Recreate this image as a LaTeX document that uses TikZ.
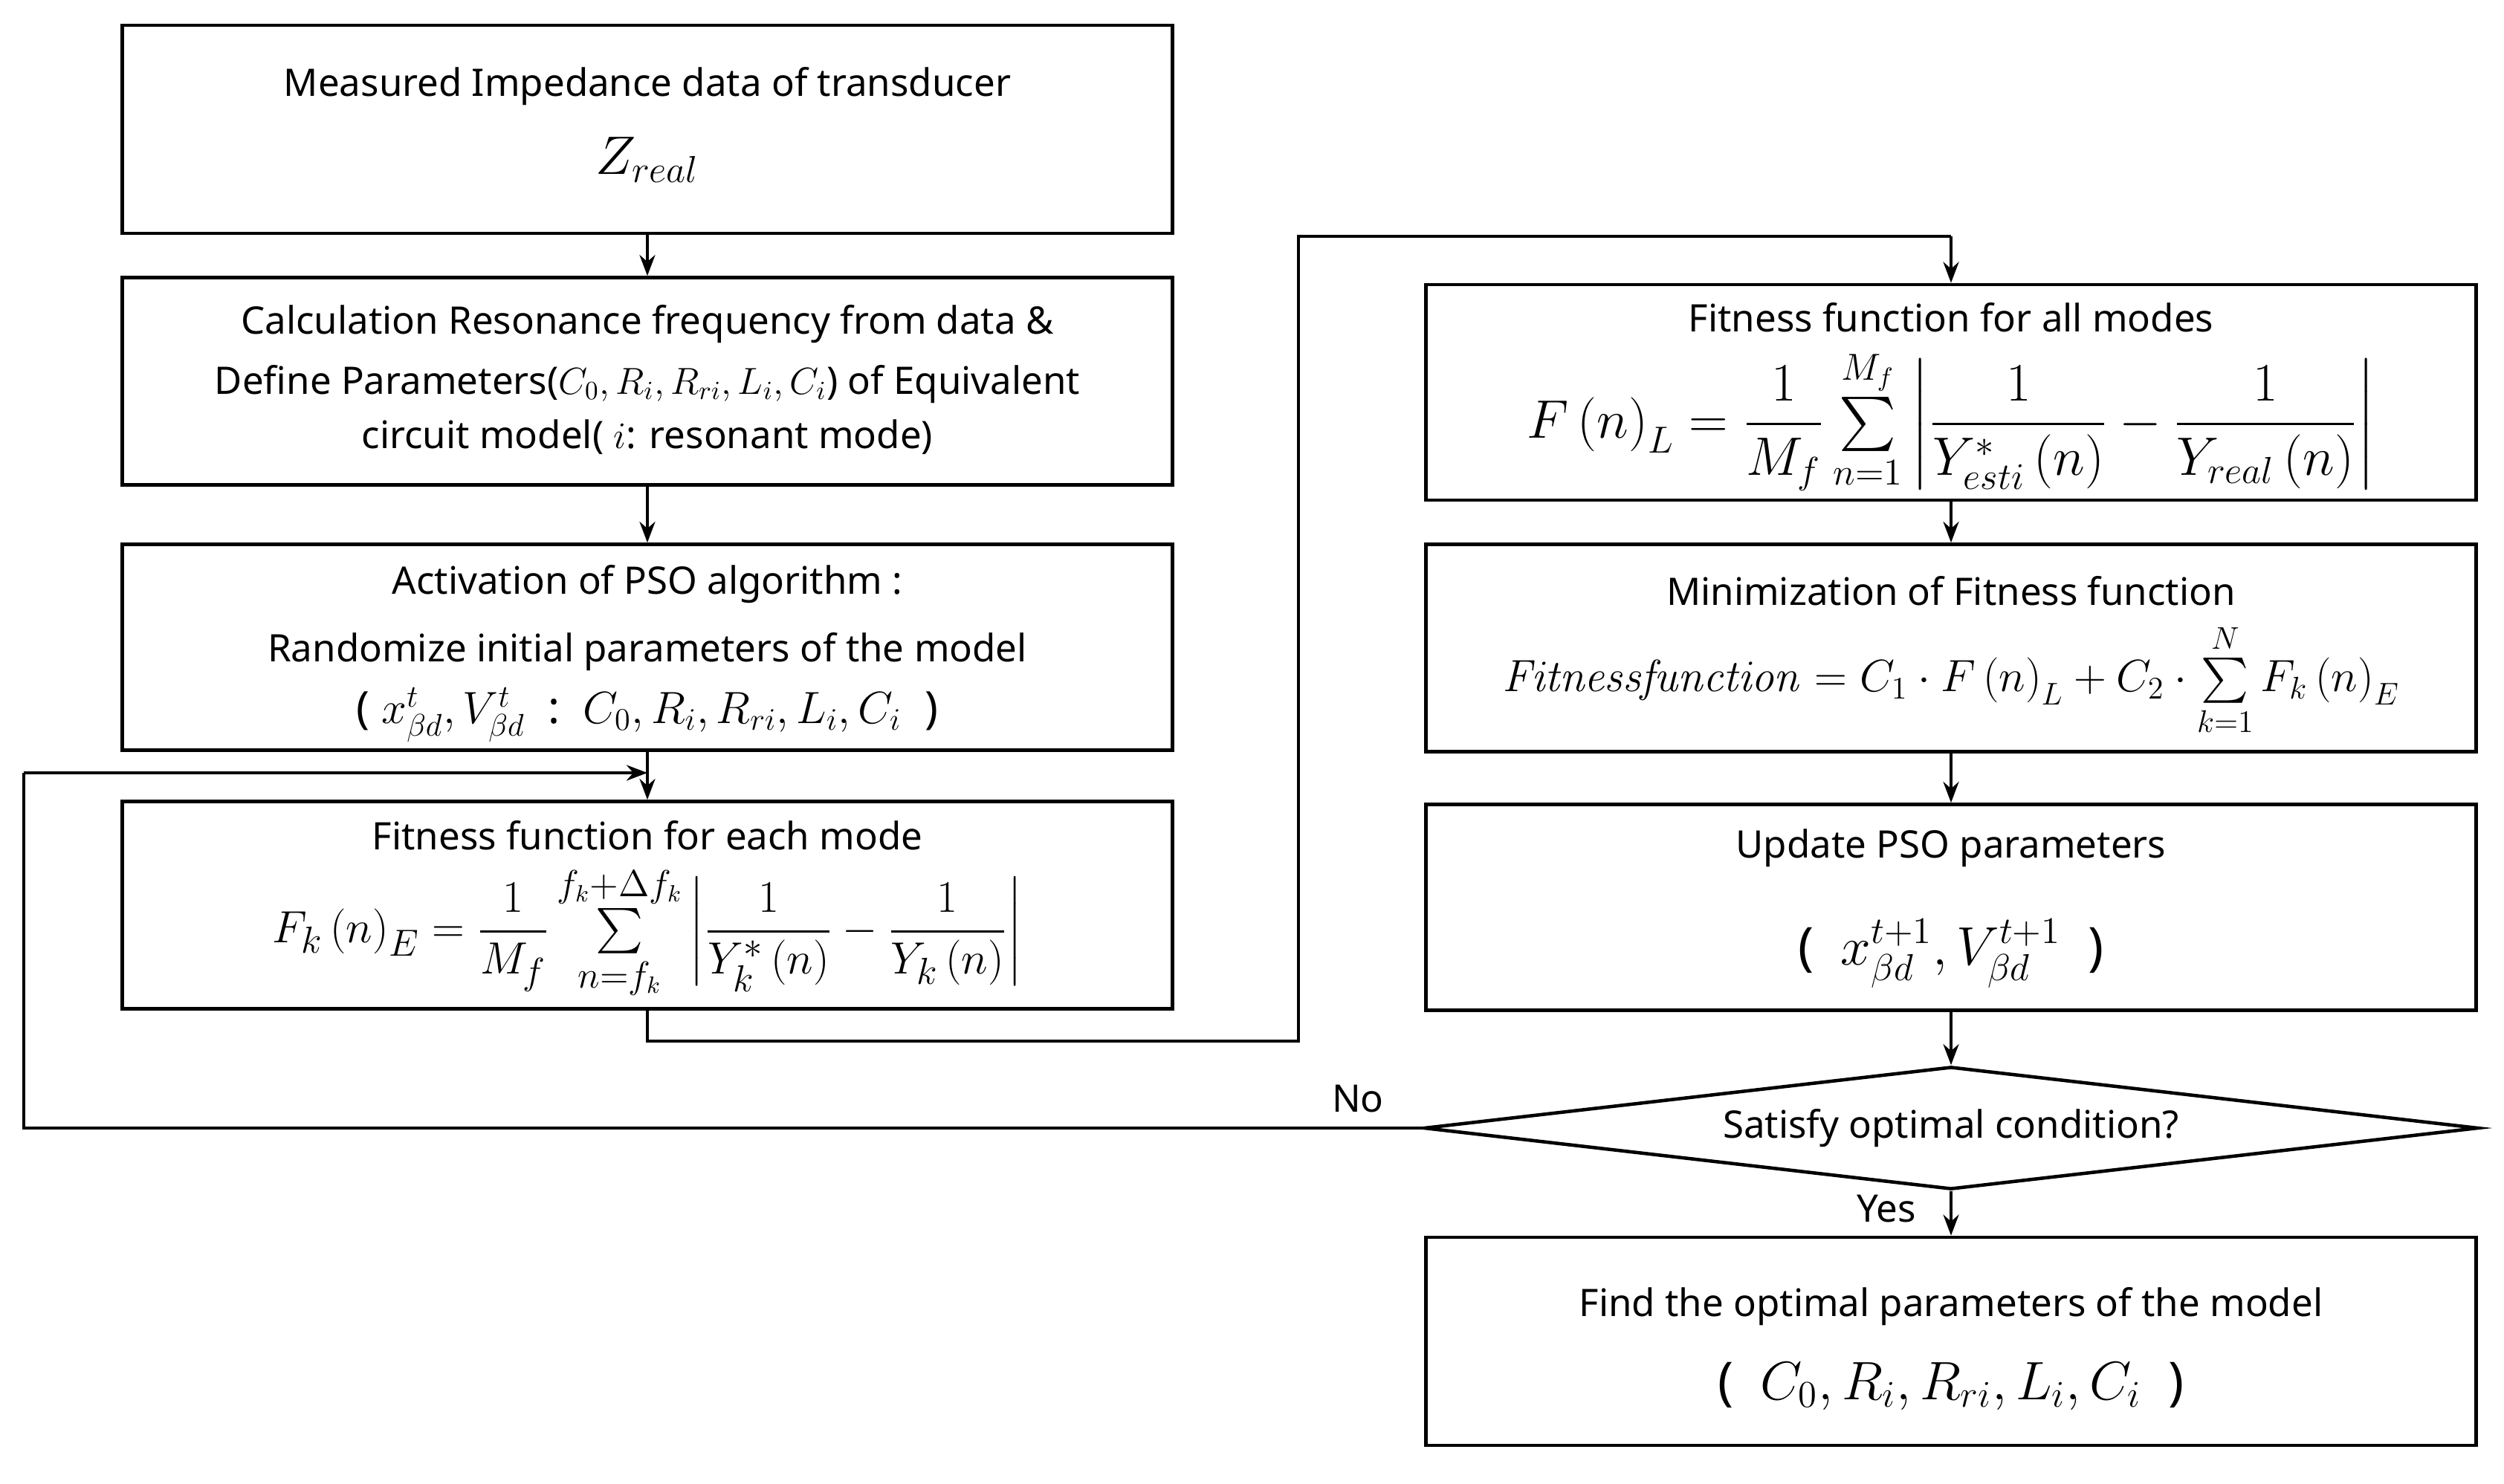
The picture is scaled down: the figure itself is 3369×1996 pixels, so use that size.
\documentclass[tikz,border=0pt]{standalone}
\usepackage{amsmath}
\usepackage[no-math]{fontspec}
\setmainfont{Noto Sans}
\usetikzlibrary{arrows.meta,shapes.geometric}
\begin{document}
\begin{tikzpicture}[x=0.01cm,y=-0.01cm,
  box/.style={draw,line width=1.3pt,minimum width=14.12cm,inner sep=0pt},
  txt/.style={inner sep=0pt,align=center,font=\fontsize{14.5}{17}\selectfont},
  frm/.style={inner sep=0pt,font=\fontsize{20}{24}\selectfont},
  con/.style={line width=1pt},
  arr/.style={line width=1pt,-{Stealth[length=8pt,width=6pt]}}]
\useasboundingbox[fill=white] (0,0) rectangle (3369,1996);
% left column
\node[box,minimum height=2.80cm] (b1) at (871,174) {};
\node[box,minimum height=2.79cm] (b2) at (871,513) {};
\node[box,minimum height=2.77cm] (b3) at (871,871) {};
\node[box,minimum height=2.79cm] (b4) at (871,1218) {};
% right column
\node[box,minimum height=2.90cm] (r1) at (2625,528) {};
\node[box,minimum height=2.79cm] (r2) at (2625,872) {};
\node[box,minimum height=2.77cm] (r3) at (2625,1221) {};
\node[draw,line width=1.3pt,diamond,aspect=8.6,minimum width=14.18cm,minimum height=1.65cm,inner sep=0pt] (d) at (2625,1518) {};
\node[box,minimum height=2.80cm] (r5) at (2625,1805) {};
% texts
\node[txt] (t1) at (871,116) {Measured Impedance data of transducer};
\node[frm] (m1) at (871,215) {$Z_{real}$};
\node[txt] (t2) at (871,511) {Calculation Resonance frequency from data \&\\[6pt]
Define Parameters($C_0,R_i,R_{ri},L_i,C_i$) of Equivalent\\[4pt]
circuit model( $i$: resonant mode)};
\node[txt] (t3a) at (871,786) {Activation of PSO algorithm :};
\node[txt] (t3b) at (871,877) {Randomize initial parameters of the model};
\node[txt,font=\fontsize{17}{20}\selectfont] (t3c) at (871,962) {( $x_{\beta d}^{t},V_{\beta d}^{t}$ \ :\ \ $C_0,R_i,R_{ri},L_i,C_i$ \ )};
\node[txt] (t4) at (871,1124) {Fitness function for each mode};
\node[frm,font=\fontsize{19}{23}\selectfont] (m4) at (871,1255) {$F_k\left(n\right)_E=\dfrac{1}{M_f}\sum\limits_{n=f_k}^{f_k+\Delta f_k}\left|\dfrac{1}{Y_k^*\left(n\right)}-\dfrac{1}{Y_k\left(n\right)}\right|$};
\node[txt] (s1) at (2625,427) {Fitness function for all modes};
\node[frm] (n1) at (2625,565) {$F\left(n\right)_L=\dfrac{1}{M_f}\sum\limits_{n=1}^{M_f}\left|\dfrac{1}{Y_{esti}^*\left(n\right)}-\dfrac{1}{Y_{real}\left(n\right)}\right|$};
\node[txt] (s2) at (2625,795) {Minimization of Fitness function};
\node[frm,font=\fontsize{18.5}{22}\selectfont] (n2) at (2625,915) {$\mathit{Fitnessfunction}=C_1\cdot F\left(n\right)_L+C_2\cdot\sum\limits_{k=1}^{N}F_k\left(n\right)_E$};
\node[txt] (s3) at (2625,1141) {Update PSO parameters};
\node[frm] (n3) at (2625,1283) {( \ $x_{\beta d}^{t+1},V_{\beta d}^{t+1}$ \ )};
\node[txt] (s4) at (2625,1518) {Satisfy optimal condition?};
\node[txt] (s5) at (2625,1758) {Find the optimal parameters of the model};
\node[frm] (n5) at (2625,1865) {( \ $C_0,R_i,R_{ri},L_i,C_i$ \ )};
\node[txt] (no) at (1827,1479) {No};
\node[txt] (yes) at (2538,1627) {Yes};
% connectors
\coordinate (j) at (871,1040);
\coordinate (p1) at (871,1401);
\coordinate (p2) at (1747,1401);
\coordinate (p3) at (1747,318);
\coordinate (p4) at (2625,318);
\coordinate (q1) at (32,1518);
\coordinate (q2) at (32,1040);
\draw[arr] (b1) -- (b2);
\draw[arr] (b2) -- (b3);
\draw[arr] (b3) -- (b4);
\draw[con] (b4.south) -- (p1) -- (p2) -- (p3) -- (p4);
\draw[arr] (p4) -- (r1.north);
\draw[arr] (r1) -- (r2);
\draw[arr] (r2) -- (r3);
\draw[arr] (r3) -- (d);
\draw[arr] (d) -- (r5);
\draw[con] (d.west) -- (q1) -- (q2);
\draw[arr] (q2) -- (j);
\end{tikzpicture}
\end{document}
